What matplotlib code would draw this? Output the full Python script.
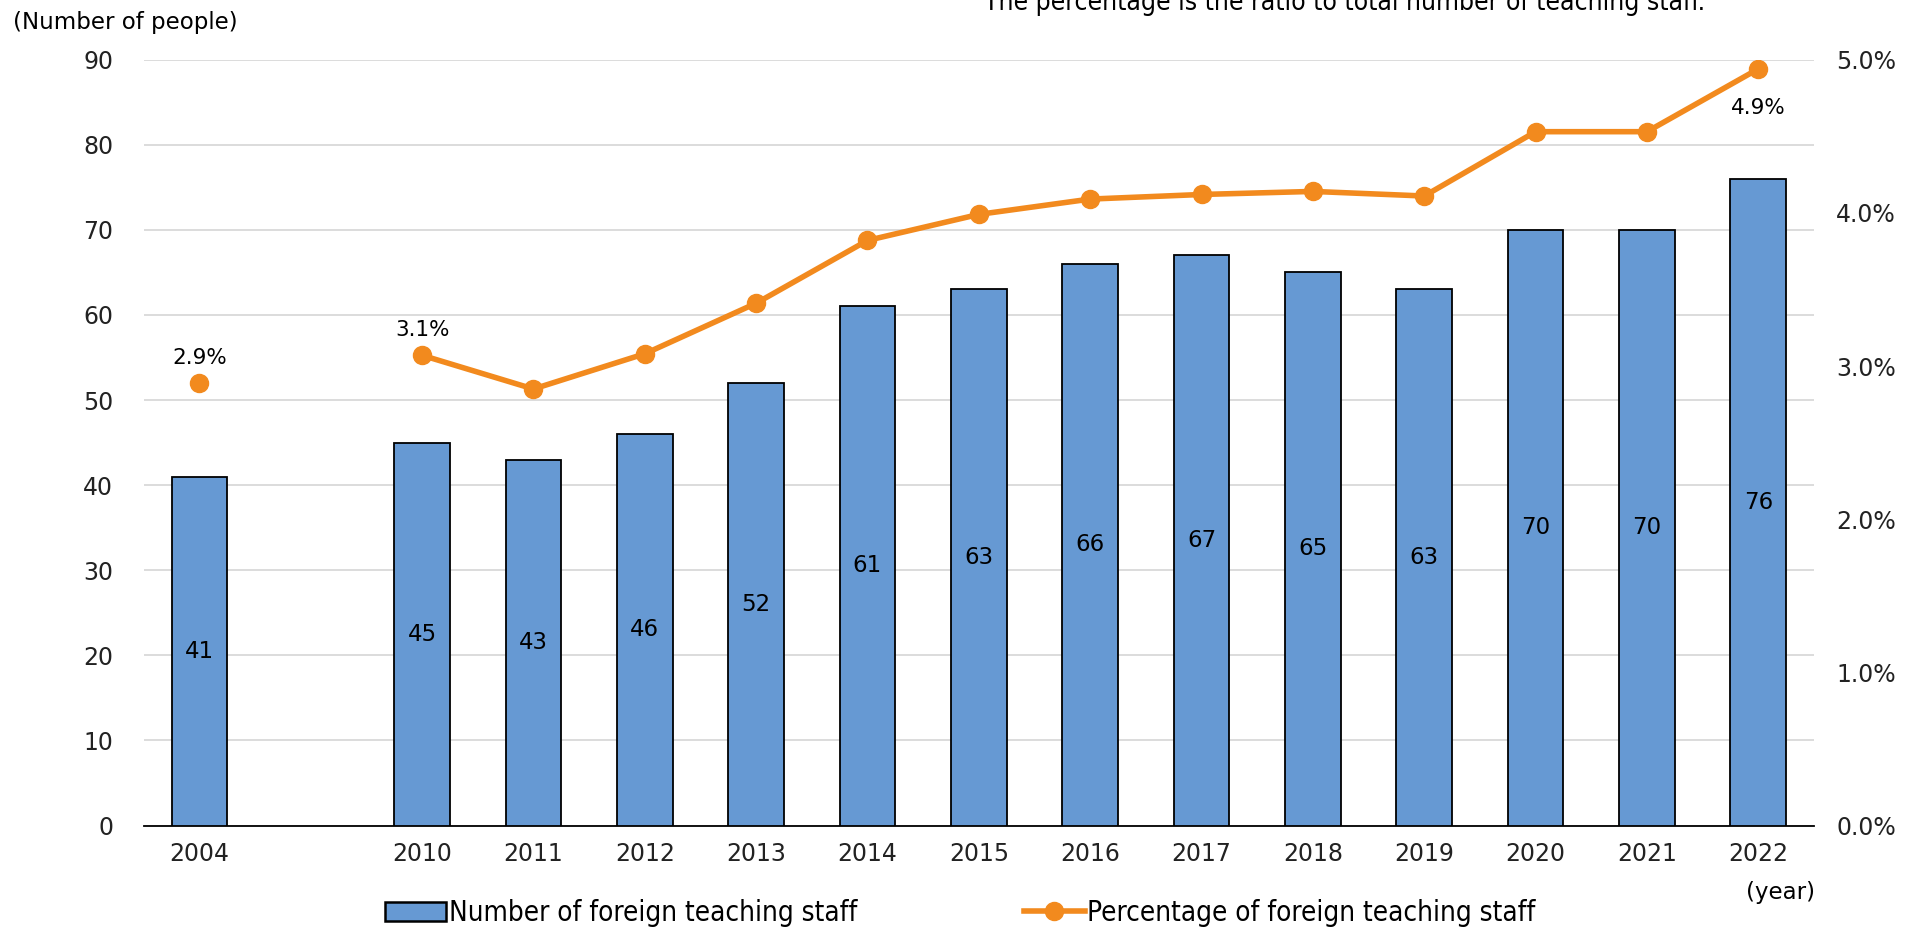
import matplotlib
matplotlib.use("Agg")
import matplotlib.pyplot as plt
from matplotlib import font_manager as fm
from matplotlib.lines import Line2D
from matplotlib.patches import Patch
import numpy as np

years = ["2004", "", "2010", "2011", "2012", "2013", "2014", "2015", "2016", "2017", "2018", "2019", "2020", "2021", "2022"]
staff = [41, None, 45, 43, 46, 52, 61, 63, 66, 67, 65, 63, 70, 70, 76]
pct = [2.89, None, 3.07, 2.85, 3.08, 3.41, 3.82, 3.99, 4.09, 4.12, 4.14, 4.11, 4.53, 4.53, 4.94]
pct_labels = {0: "2.9%", 2: "3.1%", 14: "4.9%"}

plt.rcParams['font.family'] = ['DejaVu Sans']
cond = fm.FontProperties(family="DejaVu Sans", stretch="condensed")
has_cond = "Condensed" in fm.findfont(cond)

BAR = "#6699D3"
ORANGE = "#F28A1E"

fig = plt.figure(figsize=(19.09, 9.31), dpi=100)
ax = fig.add_axes([143.7/1909, 1-825.5/931, (1814-143.7)/1909, (825.5-59.7)/931])
ax2 = ax.twinx()

x = np.arange(len(years))
for i, v in enumerate(staff):
    if v is None:
        continue
    ax.bar(i, v, width=0.5, color=BAR, edgecolor="black", linewidth=1.3, zorder=3)
    ax.text(i, v/2, str(v), ha="center", va="center", fontsize=16.5, color="black", zorder=4)

ax.set_xlim(-0.5, len(years)-0.5)
ax.set_ylim(0, 90)
ax.set_yticks(range(0, 91, 10))
ax.set_xticks(x)
ax.set_xticklabels(years)
ax.grid(axis="y", color="#D9D9D9", linewidth=1.3, zorder=0)
ax.set_axisbelow(True)
for s in ["top", "right", "left"]:
    ax.spines[s].set_visible(False)
ax.spines["bottom"].set_color("black")
ax.spines["bottom"].set_linewidth(1.3)
ax.tick_params(axis="both", length=0, labelsize=17, colors="#222222")
ax.tick_params(axis="x", pad=12)
ax.tick_params(axis="y", pad=22)

# line: 2004 standalone, rest connected
ax2.plot([0], [pct[0]], marker="o", markersize=13, color=ORANGE, linestyle="none", zorder=5)
xs = [i for i in range(2, len(years))]
ys = [pct[i] for i in xs]
ax2.plot(xs, ys, marker="o", markersize=13, color=ORANGE, linewidth=4, zorder=5)
for i, lab in pct_labels.items():
    if i == 14:
        ax2.annotate(lab, (i, pct[i]), xytext=(0, -28), textcoords="offset points",
                     ha="center", va="center", fontsize=15.5)
    else:
        ax2.annotate(lab, (i, pct[i]), xytext=(0, 18), textcoords="offset points",
                     ha="center", va="center", fontsize=15.5)
ax2.set_ylim(0, 5)
ax2.set_yticks(np.arange(0, 5.01, 1.0))
ax2.set_yticklabels([f"{v:.1f}%" for v in np.arange(0, 5.01, 1.0)])
for s in ["top", "right", "left", "bottom"]:
    ax2.spines[s].set_visible(False)
ax2.tick_params(axis="y", length=0, labelsize=17, colors="#222222", pad=16)

fig.text(13/1909, 1-22/931, "(Number of people)", fontsize=16.5, ha="left", va="center")
fig.text(1815/1909, 1-892/931, "(year)", fontsize=16.5, ha="right", va="center")
note_kw = dict(stretch="condensed") if has_cond else {}
fig.text(984/1909, 1-3/931, "The percentage is the ratio to total number of teaching staff.",
         fontsize=19 if has_cond else 17, ha="left", va="center", **note_kw)

handles = [Patch(facecolor=BAR, edgecolor="black", linewidth=1.8, label="Number of foreign teaching staff"),
           Line2D([0], [0], color=ORANGE, linewidth=4, marker="o", markersize=13, label="Percentage of foreign teaching staff")]
leg_prop = {"family": "DejaVu Sans", "size": 20 if has_cond else 18}
if has_cond:
    leg_prop["stretch"] = "condensed"
fig.legend(handles=handles, loc="center", bbox_to_anchor=(0.503, 1-913/931), ncol=2, frameon=False,
           prop=leg_prop, columnspacing=6.0, handlelength=2.2, handletextpad=0.1)

fig.savefig("out.png", dpi=100)
